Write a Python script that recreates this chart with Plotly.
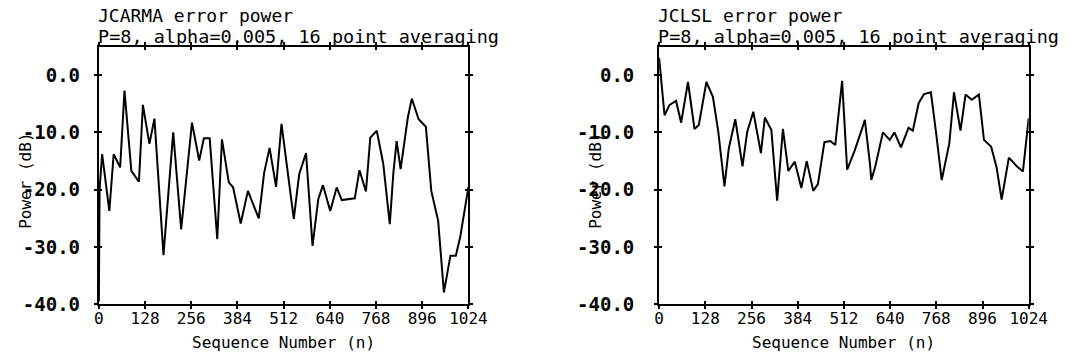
import plotly.graph_objects as go

# ---- data: block-averaged error power (dB) versus sequence number ----
jcarma_n = [0, 2, 9, 29, 41, 59, 71, 90, 111, 122, 140, 154, 179, 206, 228, 258, 278, 291,
            307, 328, 341, 360, 372, 393, 413, 443, 458, 473, 491, 506, 540, 555, 574, 592,
            608, 621, 641, 659, 673, 709, 722, 740, 752, 770, 788, 806, 816, 825, 836, 856,
            867, 886, 906, 921, 940, 956, 974, 989, 1001, 1024]
jcarma_db = [-39.5, -19.9, -13.8, -23.7, -13.8, -16.1, -2.7, -16.7, -18.6, -5.2, -12.0, -7.6,
             -31.4, -10.0, -26.9, -8.3, -14.9, -11.0, -11.0, -28.6, -11.2, -18.7, -19.6,
             -25.9, -20.2, -25.0, -17.0, -12.7, -19.5, -8.5, -25.1, -17.3, -13.6, -29.8,
             -21.6, -19.2, -23.7, -19.6, -21.8, -21.5, -16.6, -20.3, -10.9, -9.7, -15.5,
             -26.0, -17.0, -11.5, -16.4, -7.4, -4.1, -7.7, -9.0, -20.2, -25.4, -37.9, -31.5,
             -31.5, -28.3, -19.5]

jclsl_n = [0, 15, 29, 47, 61, 80, 98, 110, 131, 149, 164, 181, 193, 211, 231, 244, 261, 282,
           293, 311, 327, 343, 358, 376, 394, 409, 427, 440, 458, 474, 488, 507, 521, 541,
           563, 570, 584, 588, 599, 620, 639, 652, 670, 691, 703, 719, 734, 753, 768, 783,
           804, 817, 835, 849, 866, 886, 900, 920, 935, 949, 969, 991, 1008, 1024]
jclsl_db = [3.0, -7.0, -5.2, -4.5, -8.3, -1.2, -9.4, -8.7, -1.2, -3.8, -9.9, -19.4, -12.8,
            -7.7, -15.9, -9.9, -6.4, -13.6, -7.4, -9.6, -21.9, -9.4, -16.7, -15.1, -19.7,
            -15.0, -20.2, -19.0, -11.7, -11.5, -12.2, -1.0, -16.5, -13.3, -9.2, -7.8, -15.4,
            -18.3, -15.9, -10.0, -11.3, -10.0, -12.6, -9.2, -9.7, -4.9, -3.3, -3.0, -10.4,
            -18.3, -11.9, -3.0, -9.7, -3.4, -4.3, -3.4, -11.3, -12.5, -16.1, -21.7, -14.4,
            -15.9, -16.8, -7.5]

x_ticks = [0, 128, 256, 384, 512, 640, 768, 896, 1024]
x_tick_text = ["0", "128", "256", "384", "512", "640", "768", "896", "1024"]
y_ticks = [0, -10, -20, -30, -40]
y_tick_text = ["0.0", "-10.0", "-20.0", "-30.0", "-40.0"]

titles = [("JCARMA error power", "P=8, alpha=0.005, 16 point averaging"),
          ("JCLSL error power", "P=8, alpha=0.005, 16 point averaging")]
x_title = "Sequence Number (n)"
y_title = "Power (dB)"

MONO = "DejaVu Sans Mono"
W, H = 1079, 360
X_RANGE = [0, 1024]
Y_RANGE = [-40, 4.9]
Y_DOMAIN = [1 - 314 / H, 1 - 48.5 / H]
X_DOMAINS = [[96 / W, 474 / W], [669 / W, 1047 / W]]
Y_TITLE_X = [21, 604]
Y_LABEL_GAP = [10, 16]

fig = go.Figure()

series = [(jcarma_n, jcarma_db), (jclsl_n, jclsl_db)]
for i, (xs, ys) in enumerate(series):
    sfx = "" if i == 0 else "2"
    fig.add_trace(go.Scatter(x=xs, y=ys, mode="lines",
                             line=dict(color="black", width=2),
                             xaxis="x" + sfx, yaxis="y" + sfx,
                             showlegend=False, hoverinfo="skip"))
    # empty trace carrying the inner-tick overlay axes
    fig.add_trace(go.Scatter(x=[], y=[], mode="lines", xaxis="x" + str(3 + 2 * i),
                             yaxis="y" + str(4 + 2 * i), showlegend=False,
                             hoverinfo="skip"))

axis_common = dict(showgrid=False, zeroline=False, showline=True, linecolor="black",
                   linewidth=2, ticks="outside", ticklen=3, tickwidth=2,
                   tickcolor="black", mirror="ticks")
overlay_common = dict(showgrid=False, zeroline=False, showline=False, ticks="inside",
                      ticklen=3, tickwidth=2, tickcolor="black", mirror="ticks",
                      showticklabels=False)

layout = dict(width=W, height=H, margin=dict(l=0, r=0, t=0, b=0),
              paper_bgcolor="white", plot_bgcolor="white", showlegend=False)

annotations = []
for i in range(2):
    sfx = "" if i == 0 else "2"
    layout["xaxis" + sfx] = dict(axis_common, domain=X_DOMAINS[i], range=X_RANGE,
                                 anchor="y" + sfx, tickvals=x_ticks, ticktext=x_tick_text,
                                 tickfont=dict(family=MONO, size=16, color="black"),
                                 ticklabelstandoff=-5)
    layout["yaxis" + sfx] = dict(axis_common, domain=Y_DOMAIN, range=Y_RANGE,
                                 anchor="x" + sfx, tickvals=y_ticks, ticktext=y_tick_text,
                                 tickfont=dict(family=MONO, size=19, color="black",
                                               weight="bold"),
                                 ticklabelstandoff=Y_LABEL_GAP[i])
    ox = str(3 + 2 * i)
    oy = str(4 + 2 * i)
    layout["xaxis" + ox] = dict(overlay_common, domain=X_DOMAINS[i], range=X_RANGE,
                                anchor="y" + oy, overlaying="x" + sfx, tickvals=x_ticks)
    layout["yaxis" + oy] = dict(overlay_common, domain=Y_DOMAIN, range=Y_RANGE,
                                anchor="x" + ox, overlaying="y" + sfx, tickvals=y_ticks)

    x0, x1 = X_DOMAINS[i]
    annotations.append(dict(text=titles[i][0], xref="paper", yref="paper",
                            x=x0 - 0.002, y=1 - 16 / H, xanchor="left", yanchor="middle",
                            borderpad=0, showarrow=False,
                            font=dict(family=MONO, size=18, color="black")))
    annotations.append(dict(text=titles[i][1], xref="paper", yref="paper",
                            x=x0 - 0.002, y=1 - 37.5 / H, xanchor="left", yanchor="middle",
                            borderpad=0, showarrow=False,
                            font=dict(family=MONO, size=18.5, color="black")))
    annotations.append(dict(text=x_title, xref="paper", yref="paper",
                            x=(x0 + x1) / 2, y=1 - 353 / H, xanchor="center",
                            yanchor="middle", showarrow=False,
                            font=dict(family=MONO, size=16, color="black")))
    annotations.append(dict(text=y_title, xref="paper", yref="paper",
                            x=Y_TITLE_X[i] / W, y=1 - 187 / H,
                            xanchor="center", yanchor="middle", textangle=-90,
                            showarrow=False,
                            font=dict(family=MONO, size=16, color="black")))

layout["annotations"] = annotations
fig.update_layout(**layout)
fig.write_html("out.html")
